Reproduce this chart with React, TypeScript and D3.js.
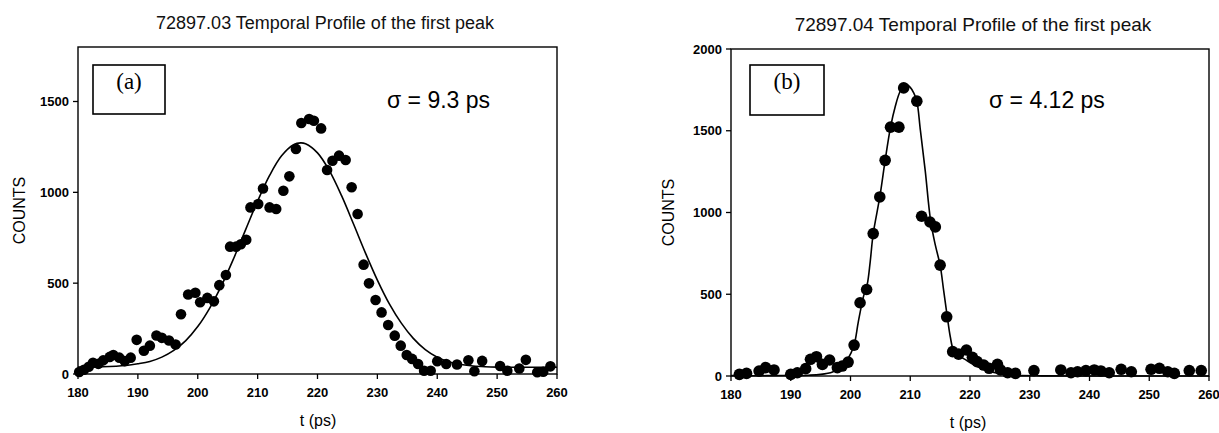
import React from 'react';
import * as d3 from 'd3';

const xTicks = [180, 190, 200, 210, 220, 230, 240, 250, 260];
const leftYTicks = [0, 500, 1000, 1500];
const rightYTicks = [0, 500, 1000, 1500, 2000];

const leftTitle = '72897.03 Temporal Profile of the first peak';
const rightTitle = '72897.04 Temporal Profile of the first peak';
const leftSigma = 'σ = 9.3 ps';
const rightSigma = 'σ = 4.12 ps';

// Panel (a) measured points
const leftTimes = [180.2, 181.0, 181.8, 182.5, 183.4, 184.2, 185.3, 185.9, 186.9, 187.8, 188.8, 189.8, 191.0, 192.0, 193.1, 194.0, 195.2, 196.3, 197.2, 198.4, 199.6, 200.4, 201.6, 202.7, 203.6, 204.7, 205.4, 206.4, 207.2, 208.1, 208.8, 210.1, 210.9, 212.0, 213.1, 214.3, 215.3, 216.4, 217.3, 218.6, 219.4, 220.6, 221.6, 222.5, 223.6, 224.7, 225.7, 226.7, 227.7, 228.6, 229.7, 230.7, 231.8, 232.9, 233.9, 234.9, 235.8, 236.8, 237.8, 238.9, 240.0, 241.5, 243.3, 245.2, 246.2, 247.5, 250.5, 251.7, 253.7, 254.8, 256.7, 257.7, 258.9];
const leftCounts = [11, 23, 40, 62, 56, 75, 94, 105, 90, 71, 90, 188, 128, 156, 212, 199, 184, 162, 329, 438, 447, 395, 419, 400, 489, 545, 701, 701, 714, 739, 917, 936, 1021, 917, 908, 1009, 1088, 1239, 1382, 1404, 1394, 1352, 1123, 1174, 1202, 1178, 1028, 881, 602, 499, 407, 339, 270, 211, 156, 105, 83, 55, 18, 18, 70, 55, 52, 76, 15, 72, 44, 18, 30, 78, 10, 12, 42];

// Panel (a) fitted curve
const leftFitTimes = [180, 184, 188, 190, 192, 194, 196, 198, 200, 202, 204, 206, 208, 210, 212, 214, 216, 217.2, 218, 220, 222, 224, 226, 228, 230, 232, 234, 236, 238, 240, 242, 244, 246, 248, 250, 255, 260];
const leftFitCounts = [38, 40, 47, 56, 69, 93, 130, 184, 261, 363, 489, 636, 795, 952, 1093, 1201, 1262, 1272, 1267, 1217, 1118, 983, 827, 667, 517, 386, 280, 196, 134, 92, 66, 52, 44, 40, 38, 37, 37];

// Panel (b) measured points
const rightTimes = [181.4, 182.6, 184.7, 185.8, 187.2, 190.0, 191.1, 192.5, 193.3, 194.3, 195.3, 196.5, 197.8, 198.6, 199.6, 200.6, 201.6, 202.7, 203.8, 204.9, 205.8, 206.7, 208.1, 208.9, 211.1, 211.9, 213.3, 214.2, 215.0, 216.1, 217.1, 218.1, 219.4, 220.4, 221.2, 222.3, 223.2, 224.6, 225.1, 226.3, 227.6, 230.7, 235.2, 236.9, 238.0, 239.4, 240.8, 241.9, 243.3, 245.3, 247.0, 250.3, 251.7, 253.1, 254.2, 256.7, 258.7];
const rightCounts = [10, 16, 30, 51, 37, 10, 20, 45, 102, 118, 71, 98, 51, 61, 85, 189, 448, 529, 871, 1095, 1319, 1522, 1522, 1762, 1681, 977, 942, 912, 678, 362, 149, 134, 159, 114, 88, 67, 47, 71, 37, 20, 16, 33, 37, 20, 26, 33, 37, 31, 20, 41, 26, 41, 47, 26, 16, 33, 33];

// Panel (b) fitted curve
const rightFitTimes = [180, 186, 190, 193, 195, 197, 198.5, 199.5, 200.6, 201.3, 202.2, 202.8, 203.3, 203.8, 204.9, 205.8, 206.7, 207.5, 208.3, 209.2, 210, 210.6, 211.1, 211.7, 212.5, 213.4, 214.2, 215.0, 215.6, 216.2, 216.7, 217.2, 217.8, 219, 220.5, 222, 224, 226, 228, 232, 240, 260];
const rightFitCounts = [2, 2, 3, 5, 10, 25, 55, 100, 190, 330, 490, 560, 700, 870, 1095, 1319, 1522, 1650, 1740, 1785, 1765, 1730, 1681, 1502, 1258, 952, 800, 678, 520, 362, 240, 160, 130, 105, 72, 45, 22, 10, 4, 1, 0, 0];

const SANS = '"Liberation Sans", Arial, Helvetica, sans-serif';
const SERIF = '"Liberation Serif", "Times New Roman", serif';

type PanelProps = {
  title: string;
  times: number[];
  counts: number[];
  fitT: number[];
  fitC: number[];
  yMax: number;
  yTicks: number[];
  x0: number;
  x1: number;
  yTop: number;
  yBottom: number;
  tag: string;
  tagBox: [number, number, number, number];
  sigma: string;
  sigmaX: number;
  dotR: number;
  titleX: number;
  titleY: number;
  titleSize: number;
  countsX: number;
  tLabelX: number;
  tLabelY: number;
};

function Panel(p: PanelProps) {
  const x = d3.scaleLinear().domain([180, 260]).range([p.x0, p.x1]);
  const y = d3.scaleLinear().domain([0, p.yMax]).range([p.yBottom, p.yTop]);
  const line = d3
    .line<number>()
    .x((_, i) => x(p.fitT[i]))
    .y((c) => y(c))
    .curve(d3.curveCatmullRom.alpha(0.5));
  const path = line(p.fitC) || '';
  const midY = (p.yTop + p.yBottom) / 2;
  const [bx0, by0, bx1, by1] = p.tagBox;
  return (
    <g>
      <text x={p.titleX} y={p.titleY} textAnchor="middle" fontFamily={SANS} fontSize={p.titleSize} fill="#111">
        {p.title}
      </text>
      <rect x={p.x0} y={p.yTop} width={p.x1 - p.x0} height={p.yBottom - p.yTop} fill="none" stroke="#000" strokeWidth={1.4} />
      {p.yTicks.map((t) => (
        <g key={'y' + t}>
          <line x1={p.x0 - 5} x2={p.x0} y1={y(t)} y2={y(t)} stroke="#000" strokeWidth={1.3} />
          <text x={p.x0 - 9} y={y(t)} dy="0.36em" textAnchor="end" fontFamily={SANS} fontWeight="bold" fontSize={13} fill="#000">
            {t}
          </text>
        </g>
      ))}
      {xTicks.map((t) => (
        <g key={'x' + t}>
          <line x1={x(t)} x2={x(t)} y1={p.yBottom} y2={p.yBottom + 5} stroke="#000" strokeWidth={1.3} />
          <text x={x(t)} y={p.yBottom + 23} textAnchor="middle" fontFamily={SANS} fontWeight="bold" fontSize={13} fill="#000">
            {t}
          </text>
        </g>
      ))}
      <text
        transform={`translate(${p.countsX},${midY}) rotate(-90)`}
        textAnchor="middle"
        fontFamily={SANS}
        fontSize={16}
        fill="#000"
      >
        COUNTS
      </text>
      <text x={p.tLabelX} y={p.tLabelY} textAnchor="middle" fontFamily={SANS} fontSize={16} fill="#000">
        t (ps)
      </text>
      <rect x={bx0} y={by0} width={bx1 - bx0} height={by1 - by0} fill="none" stroke="#000" strokeWidth={1.6} />
      <text x={(bx0 + bx1) / 2} y={by0 + 24} textAnchor="middle" fontFamily={SERIF} fontSize={23} fill="#000">
        {p.tag}
      </text>
      <text x={p.sigmaX} y={108} fontFamily={SANS} fontSize={23} fill="#000">
        {p.sigma}
      </text>
      <path d={path} fill="none" stroke="#000" strokeWidth={1.6} />
      {p.times.map((t, i) => (
        <circle key={'d' + i} cx={x(t)} cy={y(p.counts[i])} r={p.dotR} fill="#000" />
      ))}
    </g>
  );
}

export default function App() {
  return (
    <svg
      width={1219}
      height={433}
      viewBox="0 0 1219 433"
      style={{ position: 'absolute', left: 0, top: 0, background: '#fff' }}
    >
      <rect x={0} y={0} width={1219} height={433} fill="#fff" />
      <Panel
        title={leftTitle}
        times={leftTimes}
        counts={leftCounts}
        fitT={leftFitTimes}
        fitC={leftFitCounts}
        yMax={1800}
        yTicks={leftYTicks}
        x0={78}
        x1={557}
        yTop={47}
        yBottom={374}
        tag="(a)"
        tagBox={[93, 65, 165, 114]}
        sigma={leftSigma}
        sigmaX={387}
        dotR={5.3}
        titleX={325}
        titleY={29}
        titleSize={18}
        countsX={25}
        tLabelX={318}
        tLabelY={426}
      />
      <Panel
        title={rightTitle}
        times={rightTimes}
        counts={rightCounts}
        fitT={rightFitTimes}
        fitC={rightFitCounts}
        yMax={2000}
        yTicks={rightYTicks}
        x0={731}
        x1={1209}
        yTop={49}
        yBottom={376}
        tag="(b)"
        tagBox={[750, 65, 824, 115]}
        sigma={rightSigma}
        sigmaX={989}
        dotR={5.8}
        titleX={973}
        titleY={31}
        titleSize={19}
        countsX={674}
        tLabelX={968}
        tLabelY={428}
      />
    </svg>
  );
}
